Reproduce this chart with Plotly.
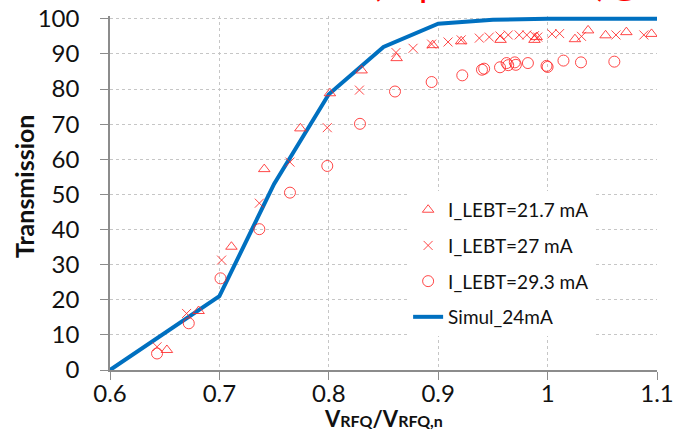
import plotly.graph_objects as go

# --- data ---
tri_x = [0.652, 0.681, 0.711, 0.741, 0.774, 0.801, 0.830, 0.862, 0.895, 0.921,
         0.957, 0.988, 0.990, 1.025, 1.037, 1.053, 1.072, 1.095]
tri_y = [5.7, 16.8, 35.1, 57.2, 68.8, 78.8, 85.3, 88.8, 92.5, 93.6,
         94.0, 94.0, 94.8, 94.2, 96.7, 95.3, 96.2, 95.7]

crs_x = [0.643, 0.670, 0.702, 0.7365, 0.7645, 0.7986, 0.828, 0.8614, 0.877, 0.894,
         0.909, 0.921, 0.9376, 0.9467, 0.9565, 0.964, 0.974, 0.981, 0.988, 0.991,
         1.004, 1.011, 1.031, 1.0625, 1.088]
crs_y = [6.6, 16.1, 31.3, 47.5, 59.2, 69.0, 79.7, 90.4, 91.6, 92.8,
         93.4, 94.0, 94.5, 94.8, 95.1, 95.4, 95.4, 95.4, 95.2, 94.8,
         95.7, 95.8, 95.0, 95.4, 95.4]

cir_x = [0.643, 0.672, 0.701, 0.7365, 0.7645, 0.7986, 0.8285, 0.8605, 0.894, 0.922,
         0.940, 0.942, 0.9565, 0.9625, 0.964, 0.970, 0.971, 0.982, 0.999, 1.000,
         1.0145, 1.0305, 1.061]
cir_y = [4.7, 13.3, 26.1, 40.1, 50.5, 58.1, 70.1, 79.3, 82.0, 83.9,
         85.5, 85.8, 86.2, 87.4, 86.8, 87.6, 86.9, 87.4, 86.6, 86.3,
         88.1, 87.6, 87.8]

sim_x = [0.6, 0.65, 0.7, 0.75, 0.8, 0.85, 0.9, 0.95, 1.0, 1.05, 1.1]
sim_y = [0, 10.5, 21, 53, 78.5, 92, 98.6, 99.7, 100, 100, 100]

x_ticks = [0.6, 0.7, 0.8, 0.9, 1.0, 1.1]
x_ticktext = ["0.6", "0.7", "0.8", "0.9", "1", "1.1"]
y_ticks = [0, 10, 20, 30, 40, 50, 60, 70, 80, 90, 100]

names = ["I_LEBT=21.7 mA", "I_LEBT=27 mA", "I_LEBT=29.3 mA", "Simul_24mA"]

RED = "rgba(255,40,40,0.85)"
BLUE = "#0070C0"
FONT = "Lato"

fig = go.Figure()
fig.add_trace(go.Scatter(x=sim_x, y=sim_y, mode="lines", name=names[3],
                         line=dict(color=BLUE, width=4), legendgroup="d", legendrank=4))
fig.add_trace(go.Scatter(x=tri_x, y=tri_y, mode="markers", name=names[0],
                         marker=dict(symbol="triangle-up-open", size=10, color=RED,
                                     line=dict(width=1, color=RED)),
                         legendgroup="a", legendrank=1))
fig.add_trace(go.Scatter(x=crs_x, y=crs_y, mode="markers", name=names[1],
                         marker=dict(symbol="x-thin-open", size=9, color=RED,
                                     line=dict(width=1, color=RED)),
                         legendgroup="b", legendrank=2))
fig.add_trace(go.Scatter(x=cir_x, y=cir_y, mode="markers", name=names[2],
                         marker=dict(symbol="circle-open", size=11, color=RED,
                                     line=dict(width=1, color=RED)),
                         legendgroup="c", legendrank=3))

axis_common = dict(
    showgrid=True, gridcolor="#c6c6c6", griddash="dot", gridwidth=1,
    showline=True, linecolor="#8c8c8c", linewidth=1.5,
    ticks="outside", ticklen=8, tickcolor="#8c8c8c", tickwidth=1,
    tickfont=dict(family=FONT, size=24, color="#111"),
    zeroline=False, automargin=False,
)

fig.update_xaxes(range=[0.6, 1.1], tickvals=x_ticks, ticktext=x_ticktext,
                 ticklabelstandoff=-7, **axis_common)
fig.update_yaxes(range=[0, 100.8], tickvals=y_ticks, ticklabelstandoff=16, **axis_common)

fig.update_layout(
    width=679, height=439,
    margin=dict(l=110, r=22, t=16, b=69, autoexpand=False),
    paper_bgcolor="white", plot_bgcolor="white",
    font=dict(family=FONT, color="#111"),
    legend=dict(x=0.545, y=0.506, xanchor="left", yanchor="top",
                bgcolor="white", font=dict(family=FONT, size=19, color="#111"),
                traceorder="grouped", tracegroupgap=8),
    annotations=[
        dict(text="<b>Transmission</b>", textangle=-90, xref="paper", yref="paper",
             x=-0.157, y=0.52, xanchor="center", yanchor="middle", showarrow=False,
             font=dict(family=FONT, size=25, color="#111")),
        dict(text="<b>V<span style='font-size:16px'>RFQ</span>/V<span style='font-size:16px'>RFQ,n</span></b>",
             xref="paper", yref="paper", x=0.5, y=-0.137, xanchor="center", yanchor="middle",
             showarrow=False, font=dict(family=FONT, size=22, color="#111")),
        dict(text="Results (experimental)@80 keV", xref="paper", yref="paper",
             x=(240 - 110) / 547, y=(370 - 6) / 354, xanchor="left", yanchor="bottom",
             showarrow=False, font=dict(family=FONT, size=38, color="#ff0000")),
    ],
)

fig.write_html("out.html")
